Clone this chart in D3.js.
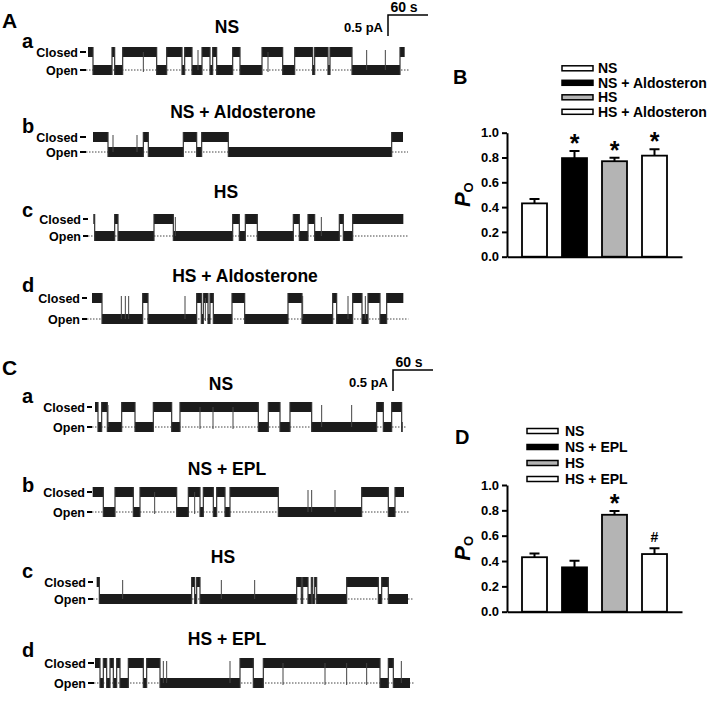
<!DOCTYPE html>
<html>
<head>
<meta charset="utf-8">
<script src="https://cdn.jsdelivr.net/npm/d3@7"></script>
<style>
body { margin: 0; background: #fff; }
text { font-family: "Liberation Sans", Arial, sans-serif; font-weight: bold; fill: #000; }
</style>
</head>
<body>
<script>
// ---- single channel records: closed intervals (s), brief events (s), record span (s)
const aNS_span = [0, 475];
const aNS_closed = [[0,7.5],[36,40],[52,103],[118,141],[145,156],[171,183],[187,193],[217,228],[261,292],[310,337],[340,360],[363,396],[468,475]];
const aNS_brief = [83, 165, 270, 418, 446];

const aNA_span = [7.5, 472.5];
const aNA_closed = [[7.5,30],[83,90.5],[143,163],[170.5,210.5],[455.5,472.5]];
const aNA_brief = [37.5, 73.5];

const aHS_span = [8, 473];
const aHS_closed = [[8,10],[40,45],[99,128],[217,227],[236,254],[308,317],[330,340],[377,383],[397,473]];
const aHS_brief = [131, 350];

const aHA_span = [6, 473];
const aHA_closed = [[6,21],[82,90],[163,170],[173,180],[183,188],[216,235],[300,321],[367,373],[397,411],[420,438],[448,473]];
const aHA_brief = [50, 56, 61, 145.5, 176, 322, 390, 416];

const cNS_span = [10.5, 471];
const cNS_closed = [[10.5,15],[20.5,29],[50.5,70.5],[98,125.5],[138,255.5],[270.5,288],[303,335.5],[433,443],[455.5,470.5]];
const cNS_brief = [30, 168, 187.5, 217.5, 350.5, 395.5];

const cNE_span = [7, 474];
const cNE_closed = [[7,23],[40.5,68],[78,133],[150.5,168],[173,188],[193,205.5],[213,285.5],[410.5,450.5],[460.5,474]];
const cNE_brief = [100, 160, 330, 335.5, 370.5];

const cHS_span = [13, 480];
const cHS_closed = [[13,17],[155.5,160],[163,168],[313,320],[322,330],[335,337],[340,343],[388,435.5],[440.5,450.5]];
const cHS_brief = [52, 200, 250];

const cHE_span = [10.5, 483];
const cHE_closed = [[10.5,18],[23,28],[33,38],[43,48],[60.5,83],[88,108],[228,248],[263,438],[450.5,458]];
const cHE_brief = [113, 118, 213, 292.5, 355.5, 388, 418, 470];

// ---- open probability
const groupsB = ["NS", "NS + Aldosteron", "HS", "HS + Aldosteron"];
const poB = [0.43, 0.795, 0.77, 0.815];
const seB = [0.035, 0.057, 0.028, 0.052];
const markB = ["", "*", "*", "*"];

const groupsD = ["NS", "NS + EPL", "HS", "HS + EPL"];
const poD = [0.43, 0.35, 0.765, 0.455];
const seD = [0.03, 0.052, 0.03, 0.045];
const markD = ["", "", "*", "#"];

const barFill = ["#fff", "#000", "#b4b4b4", "#fff"];

const width = 709, height = 701;
const svg = d3.select("body").append("svg")
    .attr("width", width)
    .attr("height", height);

const traceX = d3.scaleLinear().domain([0, 480]).range([88, 408]);

const traces = [
    {span: aNS_span, closed: aNS_closed, brief: aNS_brief, yc: 52, yo: 70, lab: 78, dash: [80, 86], title: "NS", tx: 227, ty: 33, letter: "a", ly: 48},
    {span: aNA_span, closed: aNA_closed, brief: aNA_brief, yc: 137, yo: 152, lab: 78, dash: [80, 86], title: "NS + Aldosterone", tx: 243, ty: 118, letter: "b", ly: 133},
    {span: aHS_span, closed: aHS_closed, brief: aHS_brief, yc: 219, yo: 236, lab: 81, dash: [83, 88], title: "HS", tx: 226, ty: 198, letter: "c", ly: 217},
    {span: aHA_span, closed: aHA_closed, brief: aHA_brief, yc: 298, yo: 319, lab: 80, dash: [82, 87], title: "HS + Aldosterone", tx: 245, ty: 282, letter: "d", ly: 292},
    {span: cNS_span, closed: cNS_closed, brief: cNS_brief, yc: 407, yo: 427, lab: 85, dash: [87, 92], title: "NS", tx: 221, ty: 390, letter: "a", ly: 403},
    {span: cNE_span, closed: cNE_closed, brief: cNE_brief, yc: 492, yo: 512, lab: 85, dash: [87, 92], title: "NS + EPL", tx: 227, ty: 475, letter: "b", ly: 492},
    {span: cHS_span, closed: cHS_closed, brief: cHS_brief, yc: 582, yo: 599, lab: 86, dash: [88, 93], title: "HS", tx: 223, ty: 563, letter: "c", ly: 578},
    {span: cHE_span, closed: cHE_closed, brief: cHE_brief, yc: 663, yo: 683, lab: 86, dash: [88, 94], title: "HS + EPL", tx: 227, ty: 645, letter: "d", ly: 657}
];

function segments(span, closed) {
    let segs = [];
    let t = span[0];
    closed.forEach(c => {
        if (c[0] > t) segs.push({t0: t, t1: c[0], closed: false});
        segs.push({t0: Math.max(c[0], span[0]), t1: Math.min(c[1], span[1]), closed: true});
        t = c[1];
    });
    if (t < span[1]) segs.push({t0: t, t1: span[1], closed: false});
    return segs;
}

function isClosed(closed, t) {
    return closed.some(c => t >= c[0] && t <= c[1]);
}

const band = 10;

traces.forEach(tr => {
    let g = svg.append("g");
    let segs = segments(tr.span, tr.closed);

    // labels
    g.append("text").attr("x", 22).attr("y", tr.ly)
        .style("font-size", "20px").text(tr.letter);
    g.append("text").attr("x", tr.tx).attr("y", tr.ty)
        .attr("text-anchor", "middle").style("font-size", "17.5px").text(tr.title);
    g.append("text").attr("x", tr.lab).attr("y", tr.yc + 4.5)
        .attr("text-anchor", "end").style("font-size", "12.5px").text("Closed");
    g.append("text").attr("x", tr.lab).attr("y", tr.yo + 4.5)
        .attr("text-anchor", "end").style("font-size", "12.5px").text("Open");
    [tr.yc, tr.yo].forEach(yy => {
        g.append("line")
            .attr("x1", tr.dash[0]).attr("x2", tr.dash[1])
            .attr("y1", yy).attr("y2", yy)
            .attr("stroke", "#000").attr("stroke-width", 2);
    });

    // dotted open level
    g.append("line")
        .attr("x1", tr.dash[1]).attr("x2", traceX(tr.span[1]) + 5)
        .attr("y1", tr.yo).attr("y2", tr.yo)
        .attr("stroke", "#444").attr("stroke-width", 1)
        .attr("stroke-dasharray", "1.5,1.5");

    // dwell bands
    g.selectAll(".dwell")
        .data(segs)
        .enter()
        .append("rect")
        .attr("class", "dwell")
        .attr("x", d => traceX(d.t0))
        .attr("width", d => Math.max(1, traceX(d.t1) - traceX(d.t0)))
        .attr("y", d => (d.closed ? tr.yc : tr.yo) - band / 2)
        .attr("height", band)
        .attr("fill", "#1c1c1c");

    // transitions
    g.selectAll(".trans")
        .data(segs.slice(1))
        .enter()
        .append("line")
        .attr("class", "trans")
        .attr("x1", d => traceX(d.t0)).attr("x2", d => traceX(d.t0))
        .attr("y1", tr.yc - band / 2).attr("y2", tr.yo + band / 2)
        .attr("stroke", "#333").attr("stroke-width", 1.2);

    // brief events
    g.selectAll(".brief")
        .data(tr.brief)
        .enter()
        .append("line")
        .attr("class", "brief")
        .attr("x1", d => traceX(d)).attr("x2", d => traceX(d))
        .attr("y1", d => isClosed(tr.closed, d) ? tr.yc : tr.yo)
        .attr("y2", d => isClosed(tr.closed, d) ? tr.yo + 2 : tr.yc - 2)
        .attr("stroke", "#444").attr("stroke-width", 1);
});

// panel letters
svg.append("text").attr("x", 2).attr("y", 28).style("font-size", "21px").text("A");
svg.append("text").attr("x", 2).attr("y", 375).style("font-size", "21px").text("C");
svg.append("text").attr("x", 453).attr("y", 84).style("font-size", "20px").text("B");
svg.append("text").attr("x", 455).attr("y", 444).style("font-size", "20px").text("D");

// scale bars
function scaleBar(x0, y0, tSec) {
    let len = traceX(tSec) - traceX(0);
    svg.append("path")
        .attr("d", `M${x0},${y0 + 21}V${y0}H${x0 + len}`)
        .attr("fill", "none").attr("stroke", "#000").attr("stroke-width", 1.5);
    svg.append("text").attr("x", x0 + len / 2 - 4).attr("y", y0 - 3)
        .attr("text-anchor", "middle").style("font-size", "14px").text(tSec + " s");
    svg.append("text").attr("x", x0 - 5).attr("y", y0 + 17)
        .attr("text-anchor", "end").style("font-size", "13px").text("0.5 pA");
}
scaleBar(388, 15, 60);
scaleBar(393, 370, 60);

// bar charts
function drawBars(groups, po, se, marks, y0, y1, legendTop, legendX) {
    let y = d3.scaleLinear().domain([0, 1]).range([y0, y1]);
    let x = d3.scaleBand().domain(groups).range([507, 682])
        .paddingInner(0.375).paddingOuter(0.375);

    let yAxis = svg.append("g")
        .attr("transform", "translate(507,0)")
        .call(d3.axisLeft(y).tickValues([0, 0.2, 0.4, 0.6, 0.8, 1.0])
            .tickFormat(d3.format(".1f")).tickSize(5).tickSizeOuter(0));
    yAxis.select(".domain").attr("stroke-width", 2);
    yAxis.selectAll(".tick line").attr("stroke-width", 2);
    yAxis.selectAll(".tick text")
        .style("font-size", "13px")
        .style("font-family", "Liberation Sans, Arial, sans-serif")
        .style("font-weight", "bold")
        .attr("fill", "#000");

    let xAxis = svg.append("g")
        .attr("transform", `translate(0,${y0})`)
        .call(d3.axisBottom(x).tickSize(0).tickSizeOuter(0).tickFormat(""));
    xAxis.select(".domain").attr("stroke-width", 2);

    let rows = groups.map((g, i) => ({g: g, v: po[i], e: se[i], m: marks[i], f: barFill[i]}));

    svg.selectAll(null).data(rows).enter()
        .append("path")
        .attr("d", d => {
            let cx = x(d.g) + x.bandwidth() / 2;
            return `M${cx},${y(d.v)}V${y(d.v + d.e)}M${cx - 5},${y(d.v + d.e)}H${cx + 5}`;
        })
        .attr("stroke", "#000").attr("stroke-width", 2).attr("fill", "none");

    svg.selectAll(null).data(rows).enter()
        .append("rect")
        .attr("x", d => x(d.g))
        .attr("y", d => y(d.v))
        .attr("width", x.bandwidth())
        .attr("height", d => y(0) - y(d.v))
        .attr("fill", d => d.f)
        .attr("stroke", "#000").attr("stroke-width", 1.8);

    svg.selectAll(null).data(rows.filter(d => d.m)).enter()
        .append("text")
        .attr("x", d => x(d.g) + x.bandwidth() / 2)
        .attr("y", d => d.m === "*" ? y(d.v + d.e) + 1 : y(d.v + d.e) - 6)
        .attr("text-anchor", "middle")
        .style("font-size", d => d.m === "*" ? "25px" : "14px")
        .text(d => d.m);

    // y label
    let lab = svg.append("text")
        .attr("transform", `translate(470,${(y0 + y1) / 2}) rotate(-90)`)
        .attr("text-anchor", "middle");
    lab.append("tspan").style("font-size", "22px").style("font-style", "italic").text("P");
    lab.append("tspan").style("font-size", "13px").attr("dy", 3).text("O");

    // legend
    rows.forEach((d, i) => {
        let ly = legendTop + i * (legendX.step);
        svg.append("rect")
            .attr("x", legendX.box).attr("y", ly - 2.5)
            .attr("width", 31).attr("height", 5)
            .attr("fill", d.f).attr("stroke", "#000").attr("stroke-width", 1.5);
        svg.append("text")
            .attr("x", legendX.text).attr("y", ly + 5)
            .style("font-size", "14px").text(d.g);
    });
}

drawBars(groupsB, poB, seB, markB, 256.7, 132.7, 68.3, {box: 562, text: 598, step: 14.5});
drawBars(groupsD, poD, seD, markD, 611.7, 485, 431, {box: 527, text: 565, step: 16});
</script>
</body>
</html>
